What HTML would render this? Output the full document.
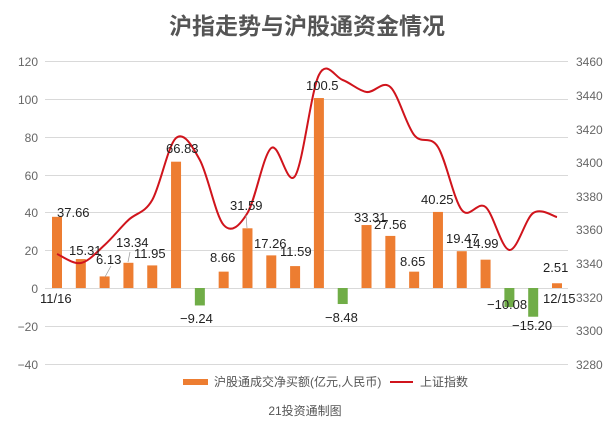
<!DOCTYPE html>
<html><head><meta charset="utf-8"><style>
html,body{margin:0;padding:0;background:#fff;}
svg{display:block;font-family:"Liberation Sans","Noto Sans CJK SC",sans-serif;}
</style></head><body>
<svg id="s" width="610" height="433" viewBox="0 0 610 433">
<text x="307" y="34" text-anchor="middle" font-size="23" font-weight="bold" fill="#555">沪指走势与沪股通资金情况</text>
<g stroke="#d9d9d9" stroke-width="1">
<line x1="45" x2="568" y1="61.5" y2="61.5"/><line x1="45" x2="568" y1="99.5" y2="99.5"/>
<line x1="45" x2="568" y1="137.5" y2="137.5"/><line x1="45" x2="568" y1="175.5" y2="175.5"/>
<line x1="45" x2="568" y1="212.5" y2="212.5"/><line x1="45" x2="568" y1="250.5" y2="250.5"/>
<line x1="45" x2="568" y1="288.5" y2="288.5"/><line x1="45" x2="568" y1="326.5" y2="326.5"/>
<line x1="45" x2="568" y1="364.5" y2="364.5"/>
</g>
<g font-size="12" fill="#666" text-anchor="end">
<text x="38" y="66">120</text><text x="38" y="104">100</text><text x="38" y="142">80</text>
<text x="38" y="180">60</text><text x="38" y="217">40</text><text x="38" y="255">20</text>
<text x="38" y="293">0</text><text x="38" y="331">−20</text><text x="38" y="369">−40</text>
</g>
<g font-size="12" fill="#666">
<text x="576" y="66">3460</text><text x="576" y="100">3440</text><text x="576" y="134">3420</text>
<text x="576" y="167">3400</text><text x="576" y="201">3380</text><text x="576" y="234">3360</text>
<text x="576" y="268">3340</text><text x="576" y="302">3320</text><text x="576" y="335">3300</text>
<text x="576" y="369">3280</text>
</g>
<g id="bars"></g>
<path id="ln" fill="none" stroke="#d0141c" stroke-width="2"/>
<g font-size="13" fill="#222">
<text x="57" y="217">37.66</text>
<text x="69" y="255">15.31</text>
<text x="96" y="264">6.13</text>
<text x="116" y="247">13.34</text>
<text x="134" y="258">11.95</text>
<text x="166" y="153">66.83</text>
<text x="180" y="323">−9.24</text>
<text x="210" y="262">8.66</text>
<text x="230" y="210">31.59</text>
<text x="254" y="248">17.26</text>
<text x="280" y="256">11.59</text>
<text x="306" y="90">100.5</text>
<text x="325" y="322">−8.48</text>
<text x="354" y="222">33.31</text>
<text x="374" y="229">27.56</text>
<text x="400" y="266">8.65</text>
<text x="421" y="204">40.25</text>
<text x="446" y="243">19.47</text>
<text x="466" y="248">14.99</text>
<text x="487" y="309">−10.08</text>
<text x="512" y="330">−15.20</text>
<text x="543" y="272">2.51</text>
<text x="40" y="303">11/16</text>
<text x="543" y="303">12/15</text>
</g>
<g stroke="#999" stroke-width="0.7">
<line x1="105" y1="277" x2="111" y2="266"/><line x1="128" y1="262" x2="130" y2="252"/><line x1="247" y1="228" x2="246" y2="215"/>
</g>
<rect x="183" y="379" width="25" height="6" fill="#ed7d31"/>
<text x="214" y="386" font-size="12" fill="#555">沪股通成交净买额(亿元,人民币)</text>
<line x1="390" x2="413" y1="382" y2="382" stroke="#d0141c" stroke-width="2"/>
<text x="420" y="386" font-size="12" fill="#555">上证指数</text>
<text x="305" y="415" text-anchor="middle" font-size="12" fill="#555">21投资通制图</text>
</svg>
<script>
var v=[37.66,15.31,6.13,13.34,11.95,66.83,-9.24,8.66,31.59,17.26,11.59,100.5,-8.48,33.31,27.56,8.65,40.25,19.47,14.99,-10.08,-15.20,2.51];
var ly=[254,263,245,220,200,138,160,225,213,148,176,75,80,92,87,135,147,210,207,250,213,217];
var g=document.getElementById('bars'),ns="http://www.w3.org/2000/svg",step=500/21,z=288,k=37.8/20;
var pts=[];
for(var i=0;i<22;i++){var cx=57+i*step;pts.push([cx,ly[i]]);
var r=document.createElementNS(ns,'rect');var h=Math.abs(v[i])*k;
r.setAttribute('x',cx-5);r.setAttribute('width',10);
r.setAttribute('y',v[i]>=0?z-h:z);r.setAttribute('height',h);
r.setAttribute('fill',v[i]>=0?'#ed7d31':'#70ad47');g.appendChild(r);}
var d='M'+pts[0][0]+','+pts[0][1];
for(var i=0;i<21;i++){var p0=pts[Math.max(0,i-1)],p1=pts[i],p2=pts[i+1],p3=pts[Math.min(21,i+2)];
var c1x=p1[0]+(p2[0]-p0[0])/6,c1y=p1[1]+(p2[1]-p0[1])/6,c2x=p2[0]-(p3[0]-p1[0])/6,c2y=p2[1]-(p3[1]-p1[1])/6;
d+=' C'+c1x+','+c1y+' '+c2x+','+c2y+' '+p2[0]+','+p2[1];}
document.getElementById('ln').setAttribute('d',d);
</script>
</body></html>
